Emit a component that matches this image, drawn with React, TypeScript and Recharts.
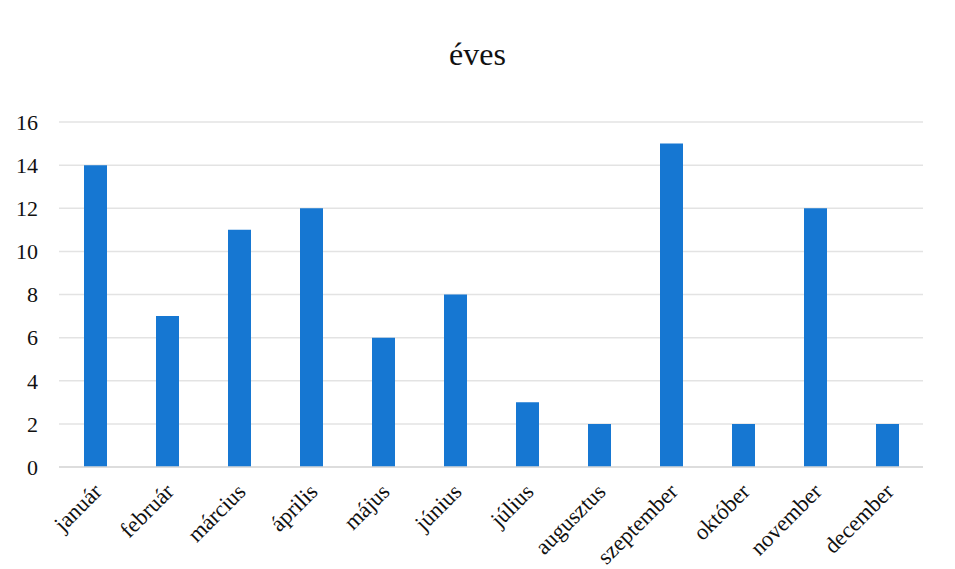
import React from "react";
import { BarChart, Bar, XAxis, YAxis, CartesianGrid } from "recharts";

const months = ["január", "február", "március", "április", "május", "június", "július", "augusztus", "szeptember", "október", "november", "december"];
const values = [14, 7, 11, 12, 6, 8, 3, 2, 15, 2, 12, 2];
const yTicks = [0, 2, 4, 6, 8, 10, 12, 14, 16];
const title = "éves";

const data = months.map((m, i) => ({ month: m, value: values[i] }));

const FONT = "'Liberation Serif', 'Times New Roman', serif";

const XTick = (props: any) => {
  const { x, y, payload } = props;
  return (
    <g transform={`translate(${x + 8},${y + 18})`}>
      <text textAnchor="end" transform="rotate(-45)" fontFamily={FONT} fontSize={22.5} fill="#111">
        {payload.value}
      </text>
    </g>
  );
};

export default function App() {
  return (
    <div style={{ position: "absolute", left: 0, top: 0, width: 955, height: 569, background: "#fff" }}>
      <div style={{ position: "absolute", left: 0, top: 36, width: 955, textAlign: "center", fontFamily: FONT, fontSize: 32, color: "#111" }}>
        {title}
      </div>
      <BarChart width={955} height={569} data={data} margin={{ top: 122, right: 32, bottom: 0, left: 0 }}>
        <CartesianGrid vertical={false} stroke="#e3e3e3" strokeWidth={1.5} />
        <XAxis dataKey="month" tick={<XTick />} tickLine={false} axisLine={{ stroke: "#d9d9d9", strokeWidth: 1.5 }} interval={0} height={102} />
        <YAxis domain={[0, 16]} ticks={yTicks} width={59} tickLine={false} axisLine={false} tickSize={0} tickMargin={21} tick={{ fontFamily: FONT, fontSize: 22, fill: "#111" }} />
        <Bar dataKey="value" fill="#1677d2" barSize={23} isAnimationActive={false} />
      </BarChart>
    </div>
  );
}
